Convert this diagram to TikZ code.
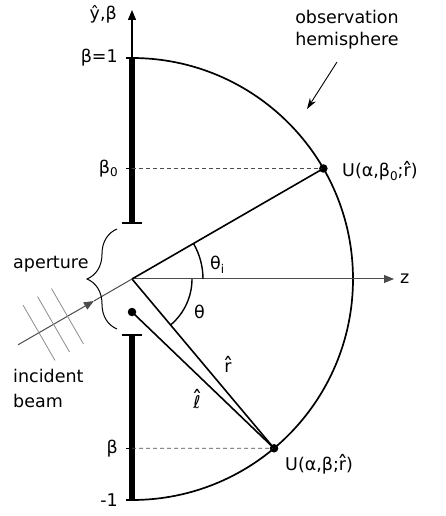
\documentclass[tikz,border=0pt]{standalone}
\usepackage{fontspec}
\setmainfont{DejaVu Sans}
\usetikzlibrary{arrows.meta,decorations.pathreplacing}
\newcommand\hatted[2]{\ooalign{#1\cr\hidewidth\raisebox{#2}{\scalebox{1.2}[1.3]{ˆ}}\hidewidth\cr}}
\newcommand\lowsub[1]{\raisebox{-0.35ex}{\fontsize{12}{12}\selectfont #1}}
\begin{document}
\begin{tikzpicture}[x=1pt,y=1pt,
  font=\fontsize{17.5}{21}\selectfont,
  lbl/.style={inner sep=0pt},
  dot/.style={circle,fill=black,inner sep=0pt,minimum size=8.5pt},
  ray/.style={line width=1.6pt},
  hemi/.style={line width=1.7pt},
  thinax/.style={line width=1pt,draw=black!70},
  dashln/.style={line width=0.8pt,draw=black!70,dash pattern=on 4pt off 3pt},
  wave/.style={line width=0.8pt,draw=black!45},
  barln/.style={line width=6.5pt},
  tcap/.style={line width=1.8pt},
  tickln/.style={line width=1.2pt},
  tri/.style={-{Triangle[length=10pt,width=8pt]}}]
\useasboundingbox (-132,-237) rectangle (314,279);

% coordinates
\coordinate (O) at (0,0);
\coordinate (top) at (0,221);
\coordinate (bot) at (0,-221);
\coordinate (apT) at (0,56);
\coordinate (apB) at (0,-56);
\coordinate (ytip) at (0,269);
\coordinate (ztip) at (262,0);
\coordinate (b0) at (0,110.5);
\coordinate (bb) at (0,-169.3);
\coordinate (B) at (210:131.6);
\coordinate (M) at (210:44);

% aperture bars
\draw[barln] (apT) -- (top);
\draw[barln] (apB) -- (bot);
\draw[tcap] (-10,56) -- (10,56);
\draw[tcap] (-10,-56) -- (10,-56);
\draw[line width=1.2pt,tri] (top) -- (ytip);
\draw[tickln] (-6,221) -- (0,221);
\draw[tickln] (-6,-221) -- (0,-221);
\draw[tickln] (-6,110.5) -- (0,110.5);
\draw[tickln] (-6,-169.3) -- (0,-169.3);

% hemisphere
\draw[hemi] (top) arc[start angle=90,end angle=-90,radius=221];

% points
\node[dot] (u0) at (30:221) {};
\node[dot] (u) at (-50:221) {};
\node[dot] (p) at (0,-33) {};

% dashed levels
\draw[dashln] (b0) -- (u0.center);
\draw[dashln] (bb) -- (u.center);

% z axis
\draw[thinax,tri] (O) -- (ztip);

% rays
\draw[ray] (O) -- (u0.center);
\draw[ray] (O) -- (u.center);
\draw[ray] (p.center) -- (u.center);

% angle arcs
\draw[line width=1.4pt] (71,0) arc[start angle=0,end angle=30,radius=71];
\draw[line width=1.4pt] (60,0) arc[start angle=0,end angle=-50,radius=60];

% incident beam
\draw[thinax,tri] (B) -- (M);
\draw[thinax] (M) -- (O);
\draw[wave] (210:107.4) ++(120:32) -- ++(-60:64);
\draw[wave] (210:90.6) ++(120:32) -- ++(-60:64);
\draw[wave] (210:74.5) ++(120:32) -- ++(-60:64);

% brace
\draw[line width=1pt,decorate,decoration={brace,amplitude=30pt,aspect=0.5}] (-15,-50) -- (-15,50);

% labels
\node[lbl,anchor=east] (ly) at (-15,265) {ŷ,β};
\node[lbl,anchor=east] (l1) at (-14,221) {β=1};
\node[lbl,anchor=east] (lb0) at (-14,110.5) {β\lowsub{0}};
\node[lbl,anchor=east] (lb) at (-14,-169.3) {β};
\node[lbl,anchor=east] (lm1) at (-14,-221) {-1};
\node[lbl,anchor=west] (lz) at (268,0) {z};
\node[lbl,anchor=base west] (lap) at (-119,10) {aperture};
\node[lbl,anchor=base west] (linc) at (-119,-103) {incident};
\node[lbl,anchor=base west] (lbeam) at (-119,-128) {beam};
\node[lbl,anchor=base] (lobs) at (215,255) {observation};
\node[lbl,anchor=base] (lhem) at (215,233) {hemisphere};
\draw[line width=0.9pt,-{Stealth[length=11pt,width=7pt]}] (205,217) -- (175,170);
\node[lbl,anchor=base west] (lu0) at (210,102) {U(α,β\lowsub{0};\hatted{r}{-0.17em})};
\node[lbl,anchor=base west] (lu) at (153,-191) {U(α,β;\hatted{r}{-0.17em})};
\node[lbl,anchor=base west] (lthi) at (78,9) {θ\lowsub{i}};
\node[lbl,anchor=base west] (lth) at (62,-39) {θ};
\node[lbl,anchor=base] (lr) at (96,-93) {\hatted{r}{-0.17em}};
\node[lbl,anchor=base] (ll) at (65,-129) {\hatted{ℓ}{0.02em}};
\end{tikzpicture}
\end{document}
